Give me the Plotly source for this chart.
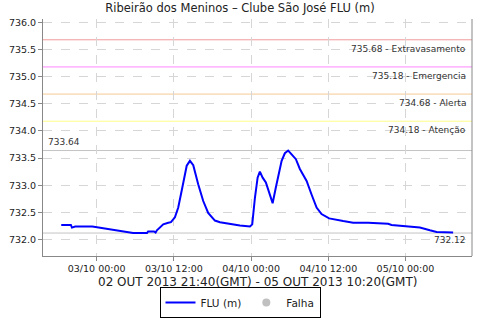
import plotly.graph_objects as go

# ---- data ----
times = [
    "2013-10-02 18:30", "2013-10-02 20:00", "2013-10-02 20:10", "2013-10-02 20:40",
    "2013-10-02 23:20", "2013-10-03 00:50", "2013-10-03 03:00", "2013-10-03 04:15",
    "2013-10-03 05:40", "2013-10-03 07:50", "2013-10-03 08:00", "2013-10-03 08:55",
    "2013-10-03 09:10", "2013-10-03 09:22", "2013-10-03 10:21", "2013-10-03 11:08",
    "2013-10-03 11:33", "2013-10-03 12:10", "2013-10-03 12:41", "2013-10-03 13:13",
    "2013-10-03 13:37", "2013-10-03 14:00", "2013-10-03 14:30", "2013-10-03 15:01",
    "2013-10-03 15:47", "2013-10-03 16:34", "2013-10-03 17:20", "2013-10-03 18:23",
    "2013-10-03 19:10", "2013-10-03 20:27", "2013-10-03 22:16", "2013-10-03 23:50",
    "2013-10-04 00:11", "2013-10-04 00:36", "2013-10-04 01:01", "2013-10-04 01:22",
    "2013-10-04 01:48", "2013-10-04 02:18", "2013-10-04 02:56", "2013-10-04 03:21",
    "2013-10-04 03:51", "2013-10-04 04:13", "2013-10-04 04:45", "2013-10-04 05:15",
    "2013-10-04 05:46", "2013-10-04 06:18", "2013-10-04 06:58", "2013-10-04 07:35",
    "2013-10-04 08:38", "2013-10-04 09:24", "2013-10-04 10:11", "2013-10-04 10:57",
    "2013-10-04 12:08", "2013-10-04 14:19", "2013-10-04 15:52", "2013-10-04 18:12",
    "2013-10-04 21:18", "2013-10-04 21:50", "2013-10-05 00:10", "2013-10-05 02:14",
    "2013-10-05 03:47", "2013-10-05 04:50", "2013-10-05 07:24",
]
flu = [
    732.27, 732.27, 732.22, 732.24,
    732.24, 732.21, 732.17, 732.14,
    732.12, 732.12, 732.15, 732.15,
    732.13, 732.17, 732.28, 732.31,
    732.32, 732.41, 732.59, 732.90,
    733.14, 733.36, 733.45, 733.37,
    733.02, 732.71, 732.49, 732.35,
    732.32, 732.29, 732.26, 732.24,
    732.28, 732.77, 733.14, 733.25,
    733.14, 733.05, 732.83, 732.67,
    732.96, 733.17, 733.45, 733.59,
    733.64, 733.57, 733.48, 733.30,
    733.08, 732.83, 732.59, 732.47,
    732.39, 732.34, 732.31, 732.31,
    732.29, 732.27, 732.25, 732.22,
    732.17, 732.14, 732.13,
]

threshold_values = [735.68, 735.18, 734.68, 734.18]
threshold_names = ["Extravasamento", "Emergencia", "Alerta", "Atenção"]
threshold_colors = ["#f29a9a", "#ff88ff", "#f7c896", "#ffff88"]

max_value = 733.64
min_value = 732.12

x_range = ["2013-10-02 15:40", "2013-10-05 10:20"]
y_range = [731.697, 736.063]
tick_vals = ["2013-10-03 00:00", "2013-10-03 12:00", "2013-10-04 00:00",
             "2013-10-04 12:00", "2013-10-05 00:00"]
tick_text = ["03/10 00:00", "03/10 12:00", "04/10 00:00", "04/10 12:00", "05/10 00:00"]

title_text = "Ribeirão dos Meninos – Clube São José FLU (m)"
xaxis_title = "02 OUT 2013 21:40(GMT) - 05 OUT 2013 10:20(GMT)"

FONT = "DejaVu Sans"

fig = go.Figure()
fig.add_trace(go.Scatter(
    x=times, y=flu, mode="lines", name="FLU (m)",
    line=dict(color="#0000ff", width=2),
))
fig.add_trace(go.Scatter(
    x=[None], y=[None], mode="markers", name="Falha",
    marker=dict(color="#c0c0c0", size=8, symbol="circle"),
))

shapes = []
annotations = []
for v, n, c in zip(threshold_values, threshold_names, threshold_colors):
    shapes.append(dict(type="line", xref="paper", x0=0, x1=1, yref="y", y0=v, y1=v,
                       line=dict(color=c, width=1), layer="below"))
    annotations.append(dict(xref="paper", x=0.99, yref="y", y=v, yshift=-2,
                            text=f"{v:.2f} - {n}", showarrow=False,
                            xanchor="right", yanchor="top",
                            font=dict(family=FONT, size=9, color="#333333")))
for v in (max_value, min_value):
    shapes.append(dict(type="line", xref="paper", x0=0, x1=1, yref="y", y0=v, y1=v,
                       line=dict(color="#c4c4c4", width=1), layer="below"))
annotations.append(dict(xref="paper", x=0.006, yref="y", y=max_value, yshift=2,
                        text=f"{max_value:.2f}", showarrow=False,
                        xanchor="left", yanchor="bottom",
                        font=dict(family=FONT, size=9, color="#333333")))
annotations.append(dict(xref="paper", x=0.99, yref="y", y=min_value, yshift=0,
                        text=f"{min_value:.2f}", showarrow=False,
                        xanchor="right", yanchor="top",
                        font=dict(family=FONT, size=9, color="#333333")))
# x-axis title as annotation (keeps plot area fixed)
annotations.append(dict(xref="paper", x=0.5, yref="paper", y=-0.111,
                        text=xaxis_title, showarrow=False,
                        xanchor="center", yanchor="middle",
                        font=dict(family=FONT, size=12, color="#222222")))

fig.update_layout(
    width=480, height=320,
    margin=dict(l=43, r=8, t=19, b=64, autoexpand=False),
    paper_bgcolor="white", plot_bgcolor="white",
    font=dict(family=FONT, color="#222222"),
    title=dict(text=title_text, x=0.5, xref="container", xanchor="center",
               y=0.975, yref="container", yanchor="middle",
               font=dict(family=FONT, size=11.5, color="#222222")),
    showlegend=True,
    legend=dict(orientation="h", x=0.5, xref="container", xanchor="center",
                y=0.006, yref="container", yanchor="bottom",
                bordercolor="#000000", borderwidth=1, bgcolor="white",
                font=dict(family=FONT, size=10.5, color="#222222"),
                itemwidth=30, tracegroupgap=0),
    shapes=shapes, annotations=annotations,
)
fig.update_xaxes(
    type="date", range=x_range, tickmode="array", tickvals=tick_vals, ticktext=tick_text,
    showgrid=True, gridcolor="#d6d6d6", griddash="dash", gridwidth=1,
    showline=True, linecolor="#888888", linewidth=1, mirror=False,
    ticks="outside", ticklen=4, tickcolor="#888888",
    tickfont=dict(family=FONT, size=9.5, color="#222222"),
    zeroline=False, automargin=False,
)
fig.update_yaxes(
    range=y_range, dtick=0.5, tick0=732.0, tickformat=".1f",
    showgrid=True, gridcolor="#d6d6d6", griddash="dash", gridwidth=1,
    showline=True, linecolor="#888888", linewidth=1,
    ticks="outside", ticklen=4, tickcolor="#888888",
    tickfont=dict(family=FONT, size=9.5, color="#222222"),
    zeroline=False, automargin=False,
)
# right border of plot area
fig.add_shape(type="line", xref="paper", yref="paper", x0=1, x1=1, y0=0, y1=1,
              line=dict(color="#888888", width=1))

fig.write_html("out.html")
